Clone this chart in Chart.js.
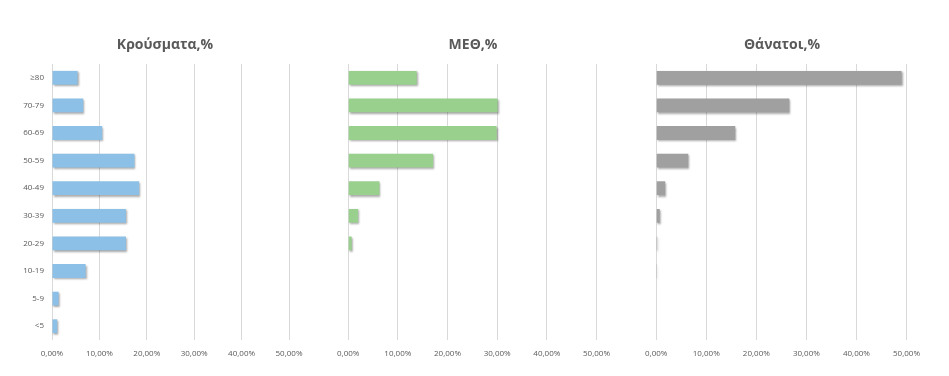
<!DOCTYPE html>
<html>
<head>
<meta charset="utf-8">
<script src="https://cdn.jsdelivr.net/npm/chart.js@4/dist/chart.umd.min.js"></script>
<style>
  html, body { margin: 0; padding: 0; background: #fff; }
  #wrap { position: relative; width: 949px; height: 376px; overflow: hidden; }
  .panel { position: absolute; top: 0; height: 376px; }
  .title {
    position: absolute; top: 34px; width: 200px; margin-left: -100px;
    text-align: center; line-height: 18px;
    font: bold 14px 'Open Sans', 'Liberation Sans', sans-serif; color: #595959;
  }
</style>
</head>
<body>
<div id="wrap">
  <div class="panel" style="left:0;width:330px"><canvas id="casesChart"></canvas></div>
  <div class="panel" style="left:328px;width:291px"><canvas id="icuChart"></canvas></div>
  <div class="panel" style="left:636px;width:293px"><canvas id="deathsChart"></canvas></div>
  <div class="title" style="left:165px">Κρούσματα,%</div>
  <div class="title" style="left:473px">ΜΕΘ,%</div>
  <div class="title" style="left:782px">Θάνατοι,%</div>
</div>
<script>
/* ── Data ──────────────────────────────────────────────── */
const AGE_GROUPS = ["≥80", "70-79", "60-69", "50-59", "40-49", "30-39", "20-29", "10-19", "5-9", "<5"];
const CASES_PCT  = [5.4, 6.6, 10.6, 17.4, 18.4, 15.6, 15.6, 7.1, 1.4, 1.1];
const ICU_PCT    = [13.8, 30.1, 29.9, 17.1, 6.3, 2.0, 0.7, 0.1, 0.0, 0.1];
const DEATHS_PCT = [49.0, 26.6, 15.8, 6.4, 1.8, 0.7, 0.2, 0.05, 0.0, 0.0];
const X_TICKS    = [0, 10, 20, 30, 40, 50];

const FONT = "'Open Sans', 'Liberation Sans', sans-serif";
const TEXT = "#595959";
const GRID = "#d9d9d9";

/* ── Soft Excel-like bar shadow ────────────────────────── */
const barShadow = {
  id: "barShadow",
  beforeDatasetsDraw(chart) {
    const c = chart.ctx;
    c.save();
    c.shadowColor   = "rgba(0,0,0,0.35)";
    c.shadowBlur    = 2;
    c.shadowOffsetX = 1;
    c.shadowOffsetY = 1.5;
  },
  afterDatasetsDraw(chart) { chart.ctx.restore(); },
};

function fmtPct(v) {
  return v.toFixed(2).replace(".", ",") + "%";
}

// axisWidth = room left of the plot, padRight = room right of it
function makeChart(id, values, color, axisWidth, padRight, showLabels) {
  return new Chart(document.getElementById(id), {
    type: "bar",
    data: {
      labels: AGE_GROUPS,
      datasets: [{
        data: values,
        backgroundColor: color,
        borderWidth: 0,
        categoryPercentage: 0.5,
        barPercentage: 1,
      }],
    },
    plugins: [barShadow],
    options: {
      indexAxis: "y",
      responsive: true,
      maintainAspectRatio: false,
      animation: false,
      layout: { padding: { left: 0, right: padRight, top: 64, bottom: 0 } },
      plugins: {
        legend:  { display: false },
        tooltip: { enabled: false },
        title:   { display: false },
      },
      scales: {
        x: {
          min: 0, max: 50,
          afterBuildTicks: s => { s.ticks = X_TICKS.map(v => ({ value: v })); },
          afterFit: s => { s.height = 36; },
          grid:   { color: GRID, drawTicks: false },
          border: { display: false },
          ticks:  { color: TEXT, padding: 9, font: { family: FONT, size: 8 }, callback: v => fmtPct(v) },
        },
        y: {
          afterFit: s => { s.width = axisWidth; },
          grid:   { display: false, drawTicks: false },
          border: { display: false },
          ticks:  { display: showLabels, color: TEXT, padding: 8, font: { family: FONT, size: 8 } },
        },
      },
    },
  });
}

makeChart("casesChart",  CASES_PCT,  "#8cc0e6", 52, 41, true);
makeChart("icuChart",    ICU_PCT,    "#99d08e", 19, 22, false);
makeChart("deathsChart", DEATHS_PCT, "#a0a0a0", 19, 22, false);
</script>
</body>
</html>
